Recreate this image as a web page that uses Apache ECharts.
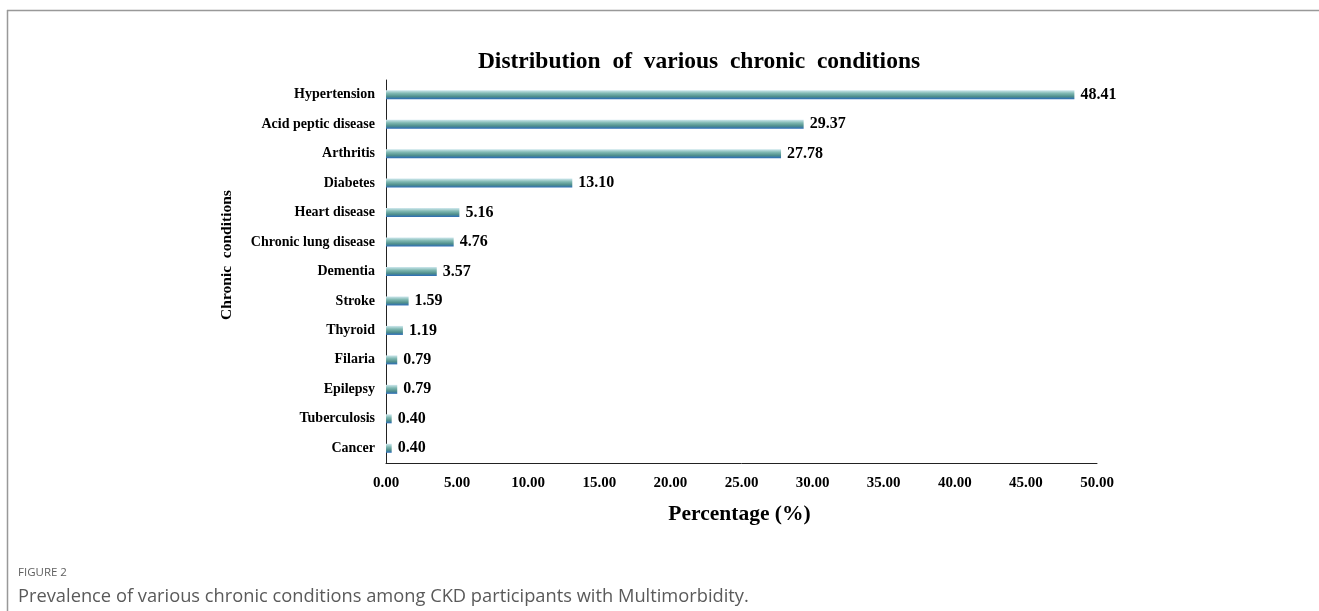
<!DOCTYPE html>
<html>
<head>
<meta charset="utf-8">
<script src="https://cdn.jsdelivr.net/npm/echarts@6/dist/echarts.min.js"></script>
<style>
  html, body { margin: 0; padding: 0; background: #fff; }
  #chart { width: 1319px; height: 611px; }
</style>
</head>
<body>
<div id="chart"></div>
<script>
// Chronic conditions and their share among participants (%)
const conditions = [
  'Hypertension', 'Acid peptic disease', 'Arthritis', 'Diabetes', 'Heart disease',
  'Chronic lung disease', 'Dementia', 'Stroke', 'Thyroid', 'Filaria',
  'Epilepsy', 'Tuberculosis', 'Cancer'
];
const percentages = [48.41, 29.37, 27.78, 13.10, 5.16, 4.76, 3.57, 1.59, 1.19, 0.79, 0.79, 0.40, 0.40];
const xTicks = { min: 0, max: 50, interval: 5 };

const serif = '"Liberation Serif", "Times New Roman", serif';
const sans = '"Open Sans", "Noto Sans", sans-serif';

const chart = echarts.init(document.getElementById('chart'), null, { renderer: 'canvas' });

const barGradient = new echarts.graphic.LinearGradient(0, 0, 0, 1, [
  { offset: 0, color: '#cfe8ee' },
  { offset: 0.35, color: '#7fb8b2' },
  { offset: 0.7, color: '#4f8f8c' },
  { offset: 1, color: '#2c6cb8' }
]);

chart.setOption({
  animation: false,
  backgroundColor: '#ffffff',
  title: {
    text: 'Distribution  of  various  chronic  conditions',
    left: 694,
    textAlign: 'center',
    top: 45,
    textStyle: { fontFamily: serif, fontWeight: 'bold', fontSize: 23.5, color: '#000' }
  },
  grid: { left: 386, right: 222, top: 80, bottom: 148, containLabel: false },
  xAxis: {
    type: 'value',
    min: xTicks.min,
    max: xTicks.max,
    interval: xTicks.interval,
    name: 'Percentage (%)',
    nameLocation: 'middle',
    nameGap: 40,
    nameTextStyle: { fontFamily: serif, fontWeight: 'bold', fontSize: 21.5, color: '#000', padding: [0, 4, 0, 0] },
    axisLine: { show: true, lineStyle: { color: '#222', width: 1 } },
    axisTick: { show: false },
    splitLine: { show: false },
    axisLabel: {
      formatter: v => v.toFixed(2),
      fontFamily: serif, fontWeight: 'bold', fontSize: 15, color: '#000', margin: 13
    }
  },
  yAxis: {
    type: 'category',
    data: conditions,
    inverse: true,
    axisLine: { show: true, lineStyle: { color: '#222', width: 1 } },
    axisTick: { show: false },
    axisLabel: { fontFamily: serif, fontWeight: 'bold', fontSize: 14, color: '#000', margin: 11 }
  },
  series: [{
    type: 'bar',
    data: percentages,
    barWidth: 9,
    itemStyle: { color: barGradient },
    label: {
      show: true,
      position: 'right',
      distance: 6,
      formatter: p => p.value.toFixed(2),
      fontFamily: serif, fontWeight: 'bold', fontSize: 16, color: '#000'
    }
  }],
  graphic: [
    // panel frame
    { type: 'line', shape: { x1: 7, y1: 10.5, x2: 1319, y2: 10.5 }, style: { stroke: '#999', lineWidth: 1.5 } },
    { type: 'line', shape: { x1: 7.5, y1: 10, x2: 7.5, y2: 611 }, style: { stroke: '#999', lineWidth: 1.5 } },
    // vertical axis title
    { type: 'text', x: 227, y: 255, rotation: Math.PI / 2,
      style: { text: 'Chronic  conditions', font: 'bold 15.5px ' + serif, fill: '#000', align: 'center', verticalAlign: 'middle' } },
    // caption
    { type: 'text', left: 18, top: 567, style: { text: 'FIGURE 2', font: '11.5px ' + sans, fill: '#606060' } },
    { type: 'text', left: 18, top: 588, style: { text: 'Prevalence of various chronic conditions among CKD participants with Multimorbidity.', font: '18.3px ' + sans, fill: '#5a5a5a' } }
  ]
});
</script>
</body>
</html>
